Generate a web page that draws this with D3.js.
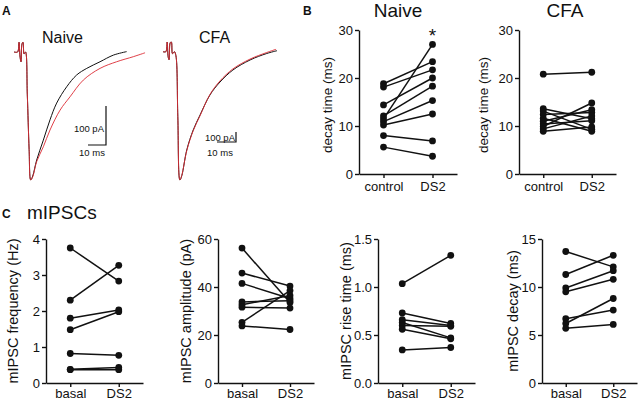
<!DOCTYPE html>
<html><head><meta charset="utf-8">
<script src="https://cdn.jsdelivr.net/npm/d3@7"></script>
<style>
body{margin:0;background:#fff}
text{font-family:"Liberation Sans",Arial,Helvetica,sans-serif;fill:#111}
</style>
</head><body><svg id="c" width="640" height="401"></svg>
<script>
// ---------- DATA ----------
// Panel A traces: [time (ms), current (pA)]
const naiveBlack = [[0,0],[2,0],[2.8,25],[3.3,-10],[3.9,-25],[4.4,20],[5,25],[5.6,-5],[6.4,0],[7.4,-110],[8.4,-250],[9.3,-328],[10.4,-318],[12.6,-277],[16.3,-226],[20,-174],[23.7,-131],[29.3,-89],[34.8,-59],[40.4,-42],[47.8,-25],[55.2,-8],[62.6,1]];
const naiveRed = [[0,0],[2,0],[2.8,25],[3.3,-10],[3.9,-25],[4.4,20],[5,25],[5.6,-5],[6.4,0],[7.4,-110],[8.4,-250],[9.3,-328],[10.4,-320],[12.6,-281],[16.3,-243],[20,-200],[25.6,-149],[31.1,-115],[38.5,-72],[47.8,-42],[57,-25],[66.3,-12],[72.8,-2]];
const cfaBlack = [[0,0],[1.5,0],[2.2,97],[2.7,-50],[3.2,-80],[3.8,90],[4.4,97],[5,-20],[6,0],[6.8,-40],[7.8,-650],[8.9,-1283],[9.9,-1240],[12.5,-983],[15.9,-783],[19.5,-633],[24.7,-433],[30,-303],[36.8,-183],[45.8,-83],[54.6,-18],[60,10]];
const cfaRed = [[0,0],[1.5,0],[2.2,97],[2.7,-50],[3.2,-80],[3.8,90],[4.4,97],[5,-20],[6,0],[6.8,-40],[7.8,-650],[8.9,-1283],[9.9,-1235],[12.5,-990],[15.9,-790],[19.5,-640],[24.7,-428],[30,-292],[36.8,-172],[45.8,-74],[54.6,-8],[59.5,24]];

// Panel B: decay time (ms)
const bCats = ["control","DS2"];
const bTicks = [0,10,20,30];
const naiveControl = [18.8,18.1,14.4,11.5,12.1,10.9,10.2,8.0,5.6];
const naiveDS2     = [23.4,21.7,20.0,27.0,18.3,15.3,12.5,6.9,3.7];
const cfaControl = [20.8,13.6,13.1,12.4,11.6,11.0,10.4,9.9,9.4,8.9];
const cfaDS2     = [21.2,11.5,9.3,12.8,8.9,13.4,11.1,14.8,12.1,9.8];

// Panel C: mIPSCs
const cCats = ["basal","DS2"];
const freqTicks = [0,1,2,3,4];
const freqBasal = [3.75,2.30,1.80,1.48,0.82,0.38,0.37];
const freqDS2   = [2.83,3.27,2.03,1.98,0.77,0.43,0.37];
const ampTicks = [0,20,40,60];
const ampBasal = [56.2,45.8,41.5,33.8,32.6,31.6,25.3,23.8];
const ampDS2   = [33.5,40.4,35.2,34.3,36.5,31.2,38.5,22.3];
const riseTicks = [0,0.5,1.0,1.5];
const riseBasal = [1.035,0.73,0.66,0.63,0.60,0.56,0.345];
const riseDS2   = [1.33,0.62,0.60,0.47,0.59,0.46,0.37];
const decayTicks = [0,5,10,15];
const decayBasal = [13.7,11.3,9.9,9.5,6.7,6.2,5.7];
const decayDS2   = [12.1,13.3,11.7,10.8,7.6,8.8,6.1];

// ---------- DRAW ----------
const svg = d3.select("#c");
const RED = "#dc2b34";

function txt(x, y, s, size, opts = {}) {
  const t = svg.append("text").attr("x", x).attr("y", y).attr("font-size", size).text(s);
  if (opts.anchor) t.attr("text-anchor", opts.anchor);
  if (opts.bold) t.attr("font-weight", "bold");
  return t;
}

// Panel letters & titles
txt(2, 15, "A", 12, {bold: true});
txt(303, 15, "B", 12, {bold: true});
txt(2, 218, "C", 12, {bold: true});
txt(27, 219, "mIPSCs", 19);
txt(42, 43, "Naive", 16);
txt(199, 43, "CFA", 16);
txt(398, 17, "Naive", 19, {anchor: "middle"});
txt(565, 17, "CFA", 19, {anchor: "middle"});

// Traces
function tracePanel(xs, ys, black, red) {
  const line = d3.line().x(d => xs(d[0])).y(d => ys(d[1])).curve(d3.curveCatmullRom.alpha(0.5));
  svg.append("path").attr("d", line(black)).attr("fill", "none").attr("stroke", "#111").attr("stroke-width", 1);
  svg.append("path").attr("d", line(red)).attr("fill", "none").attr("stroke", RED).attr("stroke-width", 1).attr("stroke-opacity", 0.9);
}
const xN = d3.scaleLinear().domain([0, 10]).range([14, 32]);
const yN = d3.scaleLinear().domain([0, -100]).range([52, 91]);
tracePanel(xN, yN, naiveBlack, naiveRed);
const xC = d3.scaleLinear().domain([0, 10]).range([163, 182]);
const yC = d3.scaleLinear().domain([0, -100]).range([51.7, 61.7]);
tracePanel(xC, yC, cfaBlack, cfaRed);

function scaleBar(xs, ys, cx, cy, pALab, msLab) {
  const w = xs(10) - xs(0), h = ys(-100) - ys(0);
  svg.append("path").attr("d", `M${cx - w},${cy}H${cx}V${cy - h}`)
    .attr("fill", "none").attr("stroke", "#111").attr("stroke-width", 1.2);
  txt(pALab[0], pALab[1], "100 pA", 9.5, {anchor: "end"});
  txt(msLab[0], msLab[1], "10 ms", 9.5, {anchor: "middle"});
}
scaleBar(xN, yN, 106, 145, [104, 132], [92, 156]);
scaleBar(xC, yC, 236, 142, [235, 141], [220, 156]);

// Paired panels
function pairPanel(o) {
  const x = d3.scalePoint().domain(o.cats).range([o.x0, o.x1]).padding(0.5);
  const y = d3.scaleLinear().domain(o.domain).range([o.yBot, o.yTop]);
  const g = svg.append("g");
  const ya = g.append("g").attr("transform", `translate(${o.x0},0)`)
    .call(d3.axisLeft(y).tickValues(o.ticks).tickFormat(o.fmt || d3.format("d")).tickSize(4).tickSizeOuter(0).tickPadding(2));
  const xa = g.append("g").attr("transform", `translate(0,${o.yBot})`)
    .call(d3.axisBottom(x).tickSize(4).tickSizeOuter(0).tickPadding(o.pad));
  [ya, xa].forEach(a => {
    a.selectAll("path,line").attr("stroke", "#111").attr("stroke-width", 1.4);
    a.selectAll("text").attr("font-size", 13).attr("fill", "#111")
      .attr("font-family", '"Liberation Sans",Arial,sans-serif');
  });
  g.selectAll("line.pair").data(o.a).join("line").attr("class", "pair")
    .attr("x1", x(o.cats[0])).attr("x2", x(o.cats[1]))
    .attr("y1", d => y(d)).attr("y2", (d, i) => y(o.b[i]))
    .attr("stroke", "#111").attr("stroke-width", 1.5);
  g.selectAll("circle.a").data(o.a).join("circle").attr("class", "a")
    .attr("cx", x(o.cats[0])).attr("cy", d => y(d)).attr("r", 3.4).attr("fill", "#111");
  g.selectAll("circle.b").data(o.b).join("circle").attr("class", "b")
    .attr("cx", x(o.cats[1])).attr("cy", d => y(d)).attr("r", 3.4).attr("fill", "#111");
  const my = (o.yTop + o.yBot) / 2 + (o.labelDy || 0);
  g.append("text").attr("transform", `translate(${o.labelX},${my}) rotate(-90)`)
    .attr("text-anchor", "middle").attr("dominant-baseline", "central")
    .attr("font-size", o.labelSize || 13.5).text(o.label);
  return {x, y};
}

const pn = pairPanel({x0: 359, x1: 457, yTop: 30, yBot: 174, domain: [0, 30], ticks: bTicks, cats: bCats,
  a: naiveControl, b: naiveDS2, label: "decay time (ms)", labelX: 327, pad: 4, labelDy: 3});
txt(pn.x("DS2"), 42, "*", 19, {anchor: "middle"});
pairPanel({x0: 519, x1: 616, yTop: 30, yBot: 174, domain: [0, 30], ticks: bTicks, cats: bCats,
  a: cfaControl, b: cfaDS2, label: "decay time (ms)", labelX: 483, pad: 4, labelDy: 3});

pairPanel({x0: 46, x1: 143, yTop: 239, yBot: 383, domain: [0, 4], ticks: freqTicks, cats: cCats,
  a: freqBasal, b: freqDS2, label: "mIPSC frequency (Hz)", labelX: 13, pad: 2, labelSize: 14.5});
pairPanel({x0: 218, x1: 314, yTop: 239, yBot: 383, domain: [0, 60], ticks: ampTicks, cats: cCats,
  a: ampBasal, b: ampDS2, label: "mIPSC amplitude (pA)", labelX: 186, pad: 2, labelSize: 14.5});
pairPanel({x0: 378, x1: 475, yTop: 239, yBot: 383, domain: [0, 1.5], ticks: riseTicks, fmt: d3.format(".1f"), cats: cCats,
  a: riseBasal, b: riseDS2, label: "mIPSC rise time (ms)", labelX: 346, pad: 2, labelSize: 14.5});
pairPanel({x0: 542, x1: 637, yTop: 239, yBot: 383, domain: [0, 15], ticks: decayTicks, cats: cCats,
  a: decayBasal, b: decayDS2, label: "mIPSC decay (ms)", labelX: 513, pad: 2, labelSize: 14.5});
</script></body></html>
